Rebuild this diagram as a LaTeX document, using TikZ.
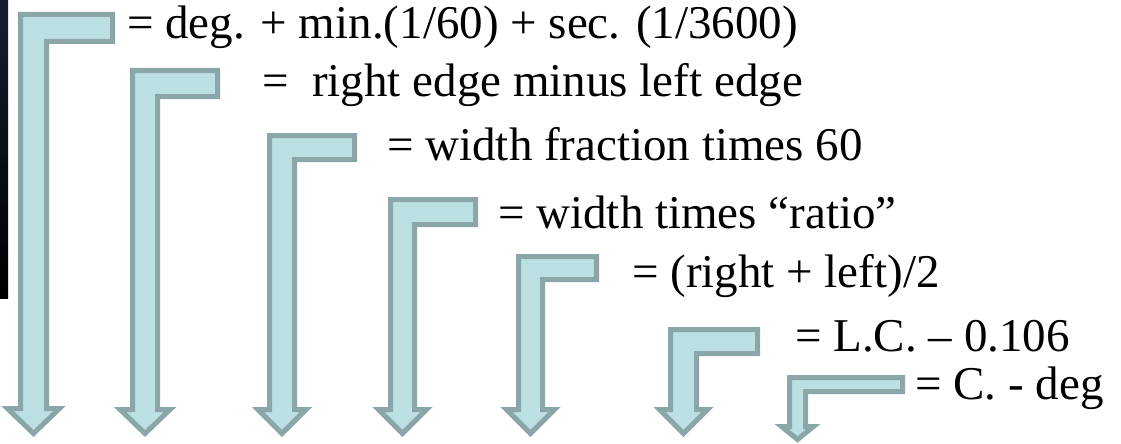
\documentclass[tikz,border=0pt]{standalone}
\usepackage{fontspec}
\setmainfont{Liberation Serif}
\definecolor{arrowfill}{RGB}{187,224,227}
\definecolor{arrowline}{RGB}{138,166,168}
\definecolor{spacedark}{RGB}{24,30,50}
\usetikzlibrary{positioning}

\begin{document}
\begin{tikzpicture}[x=1pt,y=-1pt,
    bent/.style={fill=arrowfill,draw=arrowline,line width=5pt},
    formula/.style={anchor=base west,inner sep=0pt,font=\fontsize{47}{56}\selectfont}]
    \useasboundingbox (0,0) rectangle (1121,444);
    \shade[top color=spacedark,bottom color=black] (0,0) rectangle (8,298);
    % bent arrows: shaft left/right, top, arm right, arm bottom, head half width, head top, tip
    \foreach \xl/\xr/\yt/\xa/\yb/\hw/\yh/\yp in {18/49/12/115/44/32/406/437,
        130/160/68/220/99/31/407/437, 267/297/133/357/162/30/407/437,
        388/417/197/478/227/30/407/437, 516/545/254/599/282/30/407/437,
        668/699/327/760/356/30/407/437, 787/808/375/905/394/22/424/443}
      \draw[bent] ({\xl+2.5},{\yt+2.5}) -- ({\xa-2.5},{\yt+2.5}) -- ({\xa-2.5},{\yb-2.5})
        -- ({\xr-2.5},{\yb-2.5}) -- ({\xr-2.5},{\yh+2.5})
        -- ({(\xl+\xr)/2+\hw-6},{\yh+2.5}) -- ({(\xl+\xr)/2},{\yp-3.5})
        -- ({(\xl+\xr)/2-\hw+6},{\yh+2.5}) -- ({\xl+2.5},{\yh+2.5}) -- cycle;
    % formulas
    \node[formula] (degrees) at (127,39) {= deg. + min.(1/60) + sec. (1/3600)};
    \node[formula] (width) at (262,96) {= \ right edge minus left edge};
    \node[formula] (minutes) at (387,160) {= width fraction times 60};
    \node[formula] (ratio) at (498,228) {= width times “ratio”};
    \node[formula] (center) at (632,287) {= (right + left)/2};
    \node[formula] (corrected) at (795,351) {= L.C. – 0.106};
    \node[formula] (decimal) at (915,399) {= C. - deg};
\end{tikzpicture}
\end{document}
